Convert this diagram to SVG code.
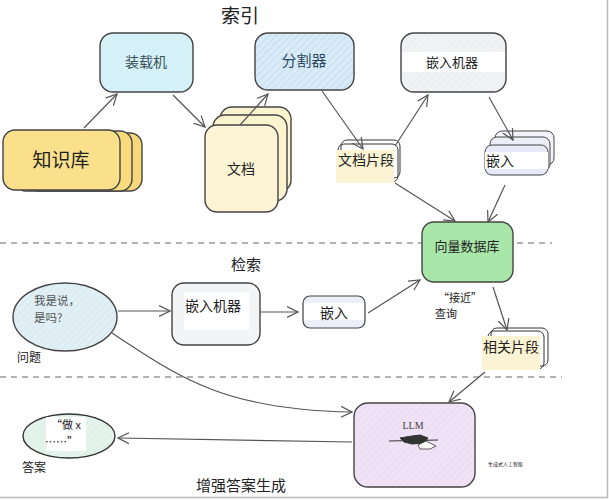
<svg xmlns="http://www.w3.org/2000/svg" width="609" height="500" viewBox="0 0 609 500">
<defs>
<marker id="arr" viewBox="0 0 12 12" refX="11" refY="6" markerWidth="12" markerHeight="12" markerUnits="userSpaceOnUse" orient="auto">
<path d="M0,0.5 L11,6 L0,11.5" fill="none" stroke="#555" stroke-width="1.2"/>
</marker>
<pattern id="hBlue" width="5" height="5" patternUnits="userSpaceOnUse" patternTransform="rotate(45)">
<rect width="5" height="5" fill="#d8ebf6"/><line x1="0" y1="0" x2="0" y2="5" stroke="#b9d6ea" stroke-width="1.2"/>
</pattern>
<pattern id="hCyan" width="5" height="5" patternUnits="userSpaceOnUse" patternTransform="rotate(45)">
<rect width="5" height="5" fill="#d6f2f8"/><line x1="0" y1="0" x2="0" y2="5" stroke="#c6eaf3" stroke-width="1"/>
</pattern>
<pattern id="hGray" width="5" height="5" patternUnits="userSpaceOnUse" patternTransform="rotate(45)">
<rect width="5" height="5" fill="#f1f2f4"/><line x1="0" y1="0" x2="0" y2="5" stroke="#e4e6ea" stroke-width="1"/>
</pattern>
<pattern id="hPink" width="5" height="5" patternUnits="userSpaceOnUse" patternTransform="rotate(45)">
<rect width="5" height="5" fill="#f1e3f6"/><line x1="0" y1="0" x2="0" y2="5" stroke="#e3d0ee" stroke-width="1"/>
</pattern>
<pattern id="hGreen" width="5" height="5" patternUnits="userSpaceOnUse" patternTransform="rotate(45)">
<rect width="5" height="5" fill="#e4f4ec"/><line x1="0" y1="0" x2="0" y2="5" stroke="#cfeadc" stroke-width="1"/>
</pattern>
<pattern id="hQ" width="5" height="5" patternUnits="userSpaceOnUse" patternTransform="rotate(45)">
<rect width="5" height="5" fill="#e2f0f6"/><line x1="0" y1="0" x2="0" y2="5" stroke="#c8e0ec" stroke-width="1"/>
</pattern>
</defs>
<style>
.t{font-family:"Noto Sans CJK SC","Noto Sans",sans-serif;fill:#222}
.box{stroke:#444;stroke-width:1.4}
.conn{fill:none;stroke:#555;stroke-width:1.2;marker-end:url(#arr)}
.dash{stroke:#666;stroke-width:1.2;stroke-dasharray:6,5}
</style>
<rect x="0" y="0" width="609" height="500" fill="#fff"/>
<line x1="607.5" y1="0" x2="607.5" y2="498" stroke="#bbb" stroke-width="1.5"/>
<line x1="0" y1="497.5" x2="608" y2="497.5" stroke="#bbb" stroke-width="1.5"/>

<g id="dividers">
<line class="dash" x1="0" y1="243" x2="552" y2="243"/>
<line class="dash" x1="0" y1="377" x2="562" y2="377"/>
</g>

<g id="titles">
<text class="t" x="240" y="23" font-size="19" text-anchor="middle">索引</text>
<text class="t" x="246" y="270" font-size="15" text-anchor="middle">检索</text>
<text class="t" x="241" y="491" font-size="15" text-anchor="middle">增强答案生成</text>
</g>

<g id="loader">
<rect class="box" x="100" y="33" width="93" height="59" rx="13" fill="url(#hCyan)"/>
<text class="t" x="146" y="67" font-size="14" text-anchor="middle" style="fill:#3d5058">装载机</text>
</g>

<g id="knowledge">
<rect class="box" x="26" y="133" width="116" height="58" rx="12" fill="#f8d87a"/>
<rect class="box" x="14" y="131" width="118" height="60" rx="12" fill="#f9db7e"/>
<rect class="box" x="3" y="130" width="117" height="60" rx="12" fill="#fbe08c"/>
<text class="t" x="61" y="167" font-size="19" text-anchor="middle">知识库</text>
</g>

<g id="docs">
<rect class="box" x="220" y="107" width="71" height="85" rx="12" fill="#fcf3cf" stroke-width="1"/>
<rect class="box" x="213" y="115" width="74" height="86" rx="12" fill="#fcf3cf" stroke-width="1"/>
<rect class="box" x="205" y="125" width="73" height="87" rx="12" fill="#fcf4d4" stroke-width="1.2"/>
<text class="t" x="241" y="174" font-size="14" text-anchor="middle">文档</text>
</g>

<g id="splitter">
<rect class="box" x="255" y="33" width="99" height="57" rx="13" fill="url(#hBlue)"/>
<text class="t" x="304" y="66" font-size="15" text-anchor="middle" style="fill:#2b4a60">分割器</text>
</g>

<g id="embedder1">
<rect class="box" x="401" y="33" width="105" height="59" rx="13" fill="url(#hGray)"/>
<rect x="402" y="52" width="103" height="20" fill="#fff"/>
<text class="t" x="452" y="67" font-size="13" text-anchor="middle">嵌入机器</text>
</g>

<g id="chunks">
<rect x="341" y="140" width="59" height="38" rx="6" fill="none" stroke="#333" stroke-width="1"/>
<rect x="338" y="144" width="60" height="38" rx="6" fill="none" stroke="#333" stroke-width="1"/>
<rect x="336" y="150" width="58" height="33" fill="#fbf3d3"/>
<text class="t" x="366" y="165" font-size="14" text-anchor="middle">文档片段</text>
</g>

<g id="embeds1">
<rect x="495" y="131" width="59" height="34" rx="7" fill="#f4f4fa" stroke="#444" stroke-width="1"/>
<rect x="490" y="137" width="60" height="34" rx="7" fill="#eeeef8" stroke="#444" stroke-width="1"/>
<rect x="485" y="145" width="63" height="30" rx="7" fill="#e8e8f6" stroke="#444" stroke-width="1"/>
<rect x="485" y="152" width="63" height="17" fill="#fff"/>
<text class="t" x="500" y="166" font-size="14" text-anchor="middle">嵌入</text>
</g>

<g id="vectordb">
<rect class="box" x="422" y="222" width="91" height="60" rx="12" fill="#a9e6a9"/>
<text class="t" x="467" y="251" font-size="13" text-anchor="middle">向量数据库</text>
</g>

<g id="question">
<ellipse cx="65" cy="317" rx="52" ry="34" fill="url(#hQ)" stroke="#444" stroke-width="1.4"/>
<text class="t" x="34" y="305" font-size="11.5" style="fill:#555">我是说，</text>
<text class="t" x="34" y="322" font-size="11.5" style="fill:#555">是吗?</text>
<text class="t" x="17" y="362" font-size="12">问题</text>
</g>

<g id="embedder2">
<rect class="box" x="172" y="283" width="88" height="62" rx="12" fill="#f3f4f6"/>
<rect x="184" y="292" width="65" height="38" fill="#fff"/>
<text class="t" x="213" y="311" font-size="14" text-anchor="middle">嵌入机器</text>
</g>

<g id="embed2">
<rect x="303" y="296" width="62" height="32" rx="7" fill="#eeeef8" stroke="#444" stroke-width="1.2"/>
<rect x="304" y="303" width="60" height="17" fill="#fff"/>
<text class="t" x="334" y="318" font-size="14" text-anchor="middle">嵌入</text>
</g>

<g id="nearlabel">
<text class="t" x="438" y="302" font-size="11">“接近”</text>
<text class="t" x="435" y="318" font-size="11">查询</text>
</g>

<g id="related">
<rect x="491" y="328" width="57" height="38" rx="6" fill="none" stroke="#333" stroke-width="1"/>
<rect x="488" y="331" width="56" height="38" rx="6" fill="none" stroke="#333" stroke-width="1"/>
<rect x="482" y="336" width="58" height="34" fill="#fbf3d3"/>
<text class="t" x="511" y="352" font-size="14" text-anchor="middle">相关片段</text>
</g>

<g id="llm">
<rect class="box" x="354" y="403" width="121" height="84" rx="14" fill="url(#hPink)"/>
<text x="413" y="429" font-size="10" text-anchor="middle" font-family="Liberation Serif, serif" fill="#444">LLM</text>
<path d="M389,441 L438,440 M400,438 L412,436 L420,435 L428,438 L424,443 L412,444 L404,442 Z" fill="#333" stroke="#333" stroke-width="1"/>
<path d="M418,445 L426,441 L436,446 L430,449 L420,449 Z" fill="#fff" stroke="#333" stroke-width="0.8"/>
<text class="t" x="488" y="466" font-size="5">生成式人工智能</text>
</g>

<g id="answer">
<ellipse cx="69" cy="436" rx="46" ry="22" fill="url(#hGreen)" stroke="#333" stroke-width="1.4"/>
<rect x="46" y="417" width="40" height="34" fill="#fff"/>
<text class="t" x="51" y="429" font-size="11">“做 x</text>
<text class="t" x="45" y="446" font-size="11">……”</text>
<text class="t" x="22" y="472" font-size="12">答案</text>
</g>

<g id="connectors">
<line class="conn" x1="84" y1="128" x2="117" y2="94"/>
<line class="conn" x1="173" y1="95" x2="205" y2="127"/>
<line class="conn" x1="240" y1="125" x2="268" y2="94"/>
<line class="conn" x1="322" y1="91" x2="363" y2="149"/>
<line class="conn" x1="395" y1="146" x2="428" y2="95"/>
<line class="conn" x1="489" y1="97" x2="513" y2="140"/>
<line class="conn" x1="395" y1="183" x2="455" y2="221"/>
<line class="conn" x1="505" y1="185" x2="488" y2="222"/>
<line class="conn" x1="118" y1="311" x2="170" y2="311"/>
<line class="conn" x1="260" y1="312" x2="298" y2="312"/>
<line class="conn" x1="368" y1="313" x2="420" y2="280"/>
<line class="conn" x1="493" y1="287" x2="507" y2="330"/>
<line class="conn" x1="485" y1="372" x2="449" y2="402"/>
<path class="conn" d="M112,333 C180,378 225,410 352,412"/>
<line class="conn" x1="352" y1="442" x2="118" y2="438"/>
</g>
</svg>
